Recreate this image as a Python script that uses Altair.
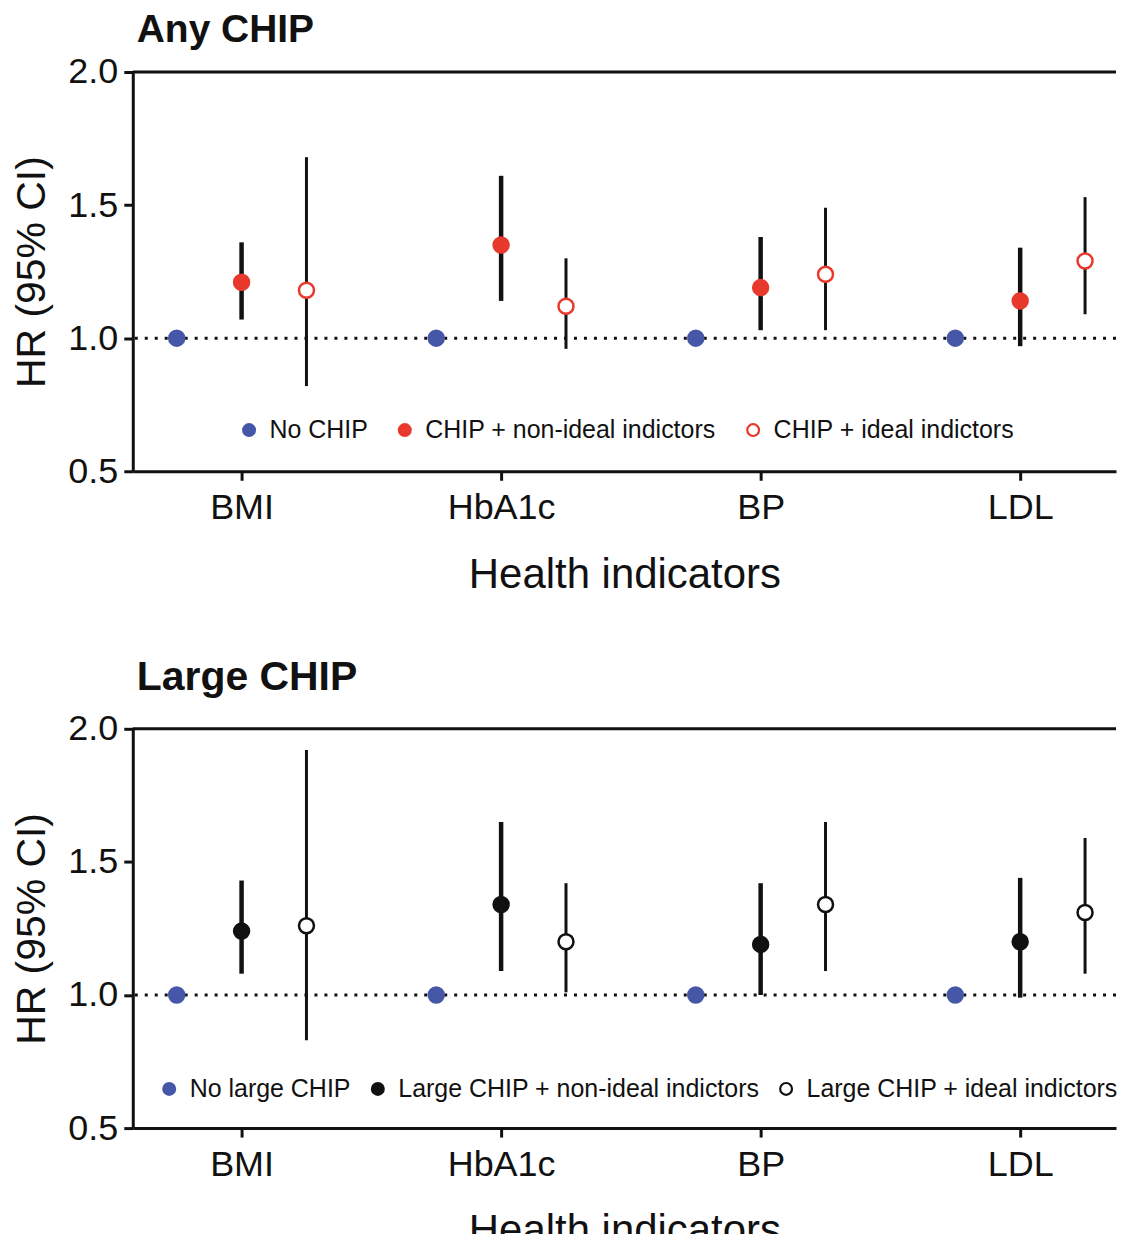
import altair as alt
import pandas as pd

# ---------------- data ----------------
categories = ["BMI", "HbA1c", "BP", "LDL"]

any_groups = ["No CHIP", "CHIP + non-ideal indictors", "CHIP + ideal indictors"]
any_ref_hr = [1.0, 1.0, 1.0, 1.0]
any_nonideal_hr = [1.21, 1.35, 1.19, 1.14]
any_nonideal_lo = [1.07, 1.14, 1.03, 0.97]
any_nonideal_hi = [1.36, 1.61, 1.38, 1.34]
any_ideal_hr = [1.18, 1.12, 1.24, 1.29]
any_ideal_lo = [0.82, 0.96, 1.03, 1.09]
any_ideal_hi = [1.68, 1.30, 1.49, 1.53]

large_groups = ["No large CHIP", "Large CHIP + non-ideal indictors", "Large CHIP + ideal indictors"]
large_ref_hr = [1.0, 1.0, 1.0, 1.0]
large_nonideal_hr = [1.24, 1.34, 1.19, 1.20]
large_nonideal_lo = [1.08, 1.09, 1.00, 0.99]
large_nonideal_hi = [1.43, 1.65, 1.42, 1.44]
large_ideal_hr = [1.26, 1.20, 1.34, 1.31]
large_ideal_lo = [0.83, 1.01, 1.09, 1.08]
large_ideal_hi = [1.92, 1.42, 1.65, 1.59]

y_ticks = [0.5, 1.0, 1.5, 2.0]

# ---------------- styling ----------------
FONT = "Liberation Sans"
INK = "#111111"
BLUE = "#4657a8"
RED = "#e8392d"
WHITE = "#ffffff"
BLACK = "#111111"

W, H = 985, 400
STEP = 260.0          # pixels between indicator groups
X_MIN = -109.0 / STEP
X_MAX = X_MIN + W / STEP
GROUP_OFFSET = 0.25


def build_frames(groups, ref, nhr, nlo, nhi, ihr, ilo, ihi):
    pts, errs = [], []
    series = [(ref, None, None), (nhr, nlo, nhi), (ihr, ilo, ihi)]
    for k, (hr, lo, hi) in enumerate(series):
        for i, cat in enumerate(categories):
            xpos = i + (k - 1) * GROUP_OFFSET
            pts.append({"cat": cat, "group": groups[k], "xpos": xpos, "hr": hr[i]})
            if lo is not None:
                errs.append({"cat": cat, "group": groups[k], "xpos": xpos,
                             "lo": lo[i], "hi": hi[i]})
    return pd.DataFrame(pts), pd.DataFrame(errs)


def panel(title, title_size, title_offset, groups, frames, fills, strokes,
          legend_x, legend_y, col_pad, leg_font):
    pts, errs = frames
    xscale = alt.Scale(domain=[X_MIN, X_MAX], nice=False, zero=False)
    yscale = alt.Scale(domain=[0.5, 2.0], nice=False, zero=False)
    label_expr = "[" + ",".join("'%s'" % c for c in categories) + "][datum.value]"
    xaxis = alt.Axis(values=[0, 1, 2, 3], labelExpr=label_expr, title="Health indicators",
                     titleFontSize=42, titlePadding=29, labelPadding=10)
    yaxis = alt.Axis(values=y_ticks, format=".1f", title="HR (95% CI)",
                     titleFontSize=41, titlePadding=14, labelPadding=6)

    leg = alt.Legend(orient="none", legendX=legend_x, legendY=legend_y,
                     direction="horizontal", columns=3, title=None,
                     labelFontSize=leg_font, labelFont=FONT, labelColor=INK,
                     symbolType="circle", symbolSize=140, symbolStrokeWidth=2.2,
                     columnPadding=col_pad, labelOffset=8, labelLimit=600)

    ref_line = alt.Chart(pd.DataFrame({"y": [1.0]})).mark_rule(
        color=INK, strokeWidth=3, strokeDash=[3, 7]
    ).encode(y=alt.Y("y:Q", scale=yscale, axis=yaxis))

    top_line = alt.Chart(pd.DataFrame({"y": [2.0]})).mark_rule(
        color=INK, strokeWidth=3
    ).encode(y=alt.Y("y:Q", scale=yscale))

    err = alt.Chart(errs).mark_rule(color=BLACK).encode(
        x=alt.X("xpos:Q", scale=xscale, axis=xaxis),
        y=alt.Y("lo:Q", scale=yscale),
        y2="hi:Q",
        strokeWidth=alt.StrokeWidth("group:N",
                                    scale=alt.Scale(domain=groups[1:], range=[4.5, 3.0]),
                                    legend=None),
    )

    points = alt.Chart(pts).mark_point(shape="circle", opacity=1, size=225,
                                       strokeWidth=2.5).encode(
        x=alt.X("xpos:Q", scale=xscale, axis=xaxis),
        y=alt.Y("hr:Q", scale=yscale),
        fill=alt.Fill("group:N", scale=alt.Scale(domain=groups, range=fills), legend=leg),
        stroke=alt.Stroke("group:N", scale=alt.Scale(domain=groups, range=strokes), legend=leg),
    )

    return alt.layer(ref_line, top_line, err, points).properties(
        width=W, height=H,
        title=alt.TitleParams(title, anchor="start", frame="group", fontSize=title_size,
                              fontWeight="bold", font=FONT, color=INK,
                              baseline="alphabetic", offset=title_offset, dx=4),
    ).resolve_scale(fill="shared", stroke="shared")


top = panel("Any CHIP", 39, -27, any_groups,
            build_frames(any_groups, any_ref_hr, any_nonideal_hr, any_nonideal_lo, any_nonideal_hi,
                         any_ideal_hr, any_ideal_lo, any_ideal_hi),
            [BLUE, RED, WHITE], [BLUE, RED, RED], 104, 346, 24, 25)

bottom = panel("Large CHIP", 41, -20, large_groups,
               build_frames(large_groups, large_ref_hr, large_nonideal_hr, large_nonideal_lo,
                            large_nonideal_hi, large_ideal_hr, large_ideal_lo, large_ideal_hi),
               [BLUE, BLACK, WHITE], [BLUE, BLACK, BLACK], 24, 348, 14, 25)

chart = alt.vconcat(top, bottom, spacing=62).resolve_scale(
    fill="independent", stroke="independent", strokeWidth="independent"
).configure(
    font=FONT, padding={"left": 3, "top": 2, "right": 0, "bottom": -19},
).configure_view(stroke=None).configure_axis(
    domainColor=INK, domainWidth=3, tickColor=INK, tickWidth=3, tickSize=9,
    labelFont=FONT, titleFont=FONT, labelFontSize=36, labelColor=INK,
    titleColor=INK, titleFontWeight="normal", grid=False,
)

chart.save("out.html", embed_options={"renderer": "svg", "actions": False})
